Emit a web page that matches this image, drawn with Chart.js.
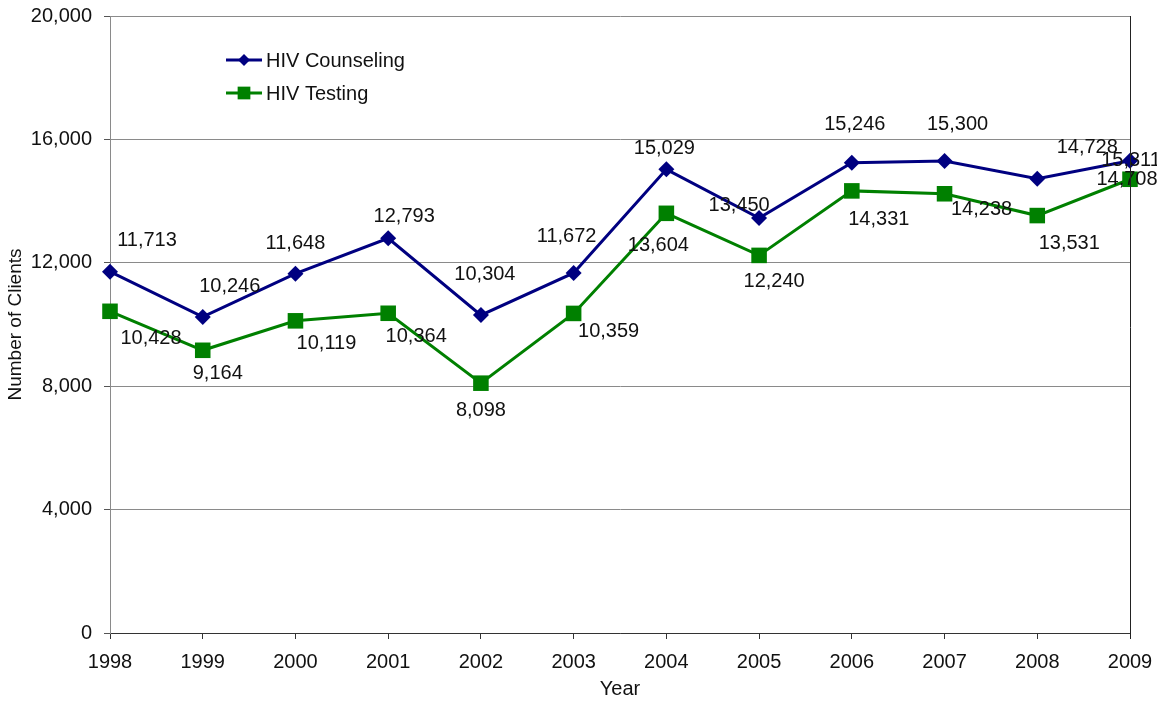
<!DOCTYPE html>
<html>
<head>
<meta charset="utf-8">
<script src="https://cdn.jsdelivr.net/npm/chart.js@4"></script>
<style>
  html, body { margin: 0; padding: 0; background: #fff; }
  #wrap { width: 1157px; height: 701px; }
</style>
</head>
<body>
<div id="wrap"><canvas id="chart" width="1157" height="701"></canvas></div>
<script>
// Clients served per year
const years = ['1998', '1999', '2000', '2001', '2002', '2003', '2004', '2005', '2006', '2007', '2008', '2009'];
const counseling = [11713, 10246, 11648, 12793, 10304, 11672, 15029, 13450, 15246, 15300, 14728, 15311];
const testing = [10428, 9164, 10119, 10364, 8098, 10359, 13604, 12240, 14331, 14238, 13531, 14708];
const seriesNames = ['HIV Counseling', 'HIV Testing'];

// where each value label sits relative to its point (dx, dy)
const counselingLabelPos = [[37, -31], [27, -30], [0, -30], [16, -22], [4, -41], [-7, -36], [-2, -21], [-20, -13], [3, -38], [13, -37], [50, -31], [1, 0]];
const testingLabelPos = [[41, 27], [15, 23], [31, 23], [28, 23], [0, 27], [35, 18], [-8, 32], [15, 26], [27, 29], [37, 16], [32, 28], [-3, 0]];

const FONT = "'Liberation Sans', Arial, sans-serif";
const NAVY = '#000080';
const GREEN = '#008000';

const valueLabels = {
  id: 'valueLabels',
  afterDatasetsDraw(chart) {
    const ctx = chart.ctx;
    const offsets = [counselingLabelPos, testingLabelPos];
    ctx.save();
    ctx.font = '20px ' + FONT;
    ctx.fillStyle = '#111';
    ctx.textAlign = 'center';
    ctx.textBaseline = 'middle';
    chart.data.datasets.forEach((ds, di) => {
      chart.getDatasetMeta(di).data.forEach((pt, i) => {
        const [dx, dy] = offsets[di][i];
        ctx.fillText(ds.data[i].toLocaleString('en-US'), pt.x + dx, pt.y + dy);
      });
    });
    ctx.restore();
  }
};

// legend in the top-left of the plot, plus the right-hand frame line
const frameAndLegend = {
  id: 'frameAndLegend',
  afterDraw(chart) {
    const ctx = chart.ctx;
    const a = chart.chartArea;
    ctx.save();
    ctx.strokeStyle = '#222';
    ctx.lineWidth = 1;
    ctx.beginPath();
    ctx.moveTo(a.right + 0.5, a.top);
    ctx.lineTo(a.right + 0.5, a.bottom + 6);
    ctx.stroke();

    const rows = [
      { color: NAVY, style: 'rectRot', radius: 6 },
      { color: GREEN, style: 'rect', radius: 9 }
    ];
    const x0 = a.left + 116, x1 = a.left + 152;
    rows.forEach((r, i) => {
      const y = a.top + 44 + i * 33;
      ctx.strokeStyle = r.color;
      ctx.lineWidth = 3;
      ctx.beginPath();
      ctx.moveTo(x0, y);
      ctx.lineTo(x1, y);
      ctx.stroke();
      ctx.fillStyle = r.color;
      Chart.helpers.drawPoint(ctx, { pointStyle: r.style, radius: r.radius, borderWidth: 0 }, (x0 + x1) / 2, y);
      ctx.fillStyle = '#111';
      ctx.font = '20px ' + FONT;
      ctx.textAlign = 'left';
      ctx.textBaseline = 'middle';
      ctx.fillText(seriesNames[i], x1 + 4, y + 1);
    });
    ctx.restore();
  }
};

new Chart(document.getElementById('chart'), {
  type: 'line',
  data: {
    labels: years,
    datasets: [
      {
        label: seriesNames[0],
        data: counseling,
        borderColor: NAVY,
        backgroundColor: NAVY,
        borderWidth: 3,
        pointStyle: 'rectRot',
        pointRadius: 8,
        pointBorderWidth: 0,
        tension: 0
      },
      {
        label: seriesNames[1],
        data: testing,
        borderColor: GREEN,
        backgroundColor: GREEN,
        borderWidth: 3,
        pointStyle: 'rect',
        pointRadius: 11,
        pointBorderWidth: 0,
        tension: 0
      }
    ]
  },
  options: {
    responsive: false,
    animation: false,
    layout: { padding: { top: 16, right: 27, bottom: 0, left: 0 } },
    plugins: {
      legend: { display: false },
      tooltip: { enabled: false }
    },
    scales: {
      x: {
        type: 'category',
        offset: false,
        afterFit: s => { s.height = 68; s.paddingLeft = 0; s.paddingRight = 0; },
        grid: { drawOnChartArea: false, drawTicks: true, tickLength: 6, tickColor: '#333' },
        border: { color: '#333', width: 1 },
        ticks: { color: '#111', font: { family: FONT, size: 20 }, padding: 11, maxRotation: 0, autoSkip: false },
        title: { display: true, text: 'Year', color: '#111', font: { family: FONT, size: 20 }, padding: { top: 0, bottom: 0 } }
      },
      y: {
        min: 0,
        max: 20000,
        afterFit: s => { s.width = 110; s.paddingTop = 0; s.paddingBottom = 0; },
        grid: { color: '#8a8a8a', tickLength: 6, tickColor: '#555' },
        border: { color: '#8a8a8a', width: 1 },
        ticks: {
          stepSize: 4000,
          color: '#111',
          padding: 12,
          font: { family: FONT, size: 20 },
          callback: v => v.toLocaleString('en-US')
        },
        title: { display: true, text: 'Number of Clients', color: '#111', font: { family: FONT, size: 19 }, padding: { top: 4, bottom: 4 } }
      }
    }
  },
  plugins: [valueLabels, frameAndLegend]
});
</script>
</body>
</html>
